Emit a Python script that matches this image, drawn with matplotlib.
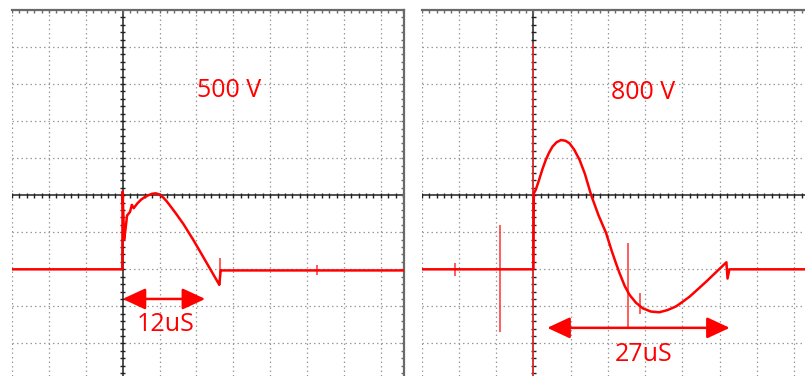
import numpy as np
import matplotlib
matplotlib.use("Agg")
import matplotlib.pyplot as plt

# ---------------- data (oscilloscope divisions) ----------------
left_label = "500 V"
right_label = "800 V"
left_width_label = "12uS"
right_width_label = "27uS"

left_t = [-3.0, -0.01, 0.0, 0.04, 0.08, 0.12, 0.2, 0.25, 0.3, 0.4, 0.5, 0.6, 0.7, 0.8, 0.9,
          1.0, 1.1, 1.2, 1.3, 1.45, 1.65, 1.9, 2.1, 2.35, 2.6, 2.62, 2.66, 2.7, 7.63]
left_v = [-2.0, -2.0, 0.1, -1.2, -0.9, -0.55, -0.45, -0.26, -0.35, -0.22, -0.12, -0.05, 0.0, 0.04, 0.05,
          0.02, -0.06, -0.17, -0.3, -0.5, -0.78, -1.18, -1.52, -1.95, -2.38, -2.42, -2.02, -2.03, -2.03]
left_spike_t = [2.63, 5.27]
left_spike_top = [-1.7, -1.88]
left_spike_bot = [-2.42, -2.15]

right_t = [-3.0, -0.01, 0.0, 0.01, 0.06, 0.15, 0.24, 0.33, 0.42, 0.51, 0.62, 0.74, 0.86, 0.97,
           1.1, 1.24, 1.38, 1.55, 1.75, 1.95, 2.1, 2.22, 2.31, 2.45, 2.58, 2.75, 2.93, 3.15,
           3.38, 3.6, 3.83, 4.0, 4.19, 4.4, 4.64, 4.9, 5.18, 5.21, 5.26, 7.29]
right_v = [-2.0, -2.0, -2.0, 0.05, 0.14, 0.41, 0.7, 0.95, 1.15, 1.31, 1.43, 1.49, 1.47, 1.40,
           1.22, 0.95, 0.58, 0.0, -0.55, -1.02, -1.5, -1.85, -2.1, -2.45, -2.69, -2.9, -3.05, -3.14,
           -3.16, -3.1, -3.0, -2.88, -2.74, -2.55, -2.33, -2.08, -1.81, -2.25, -2.0, -2.0]
right_spike_t = [-2.1, -0.9, 0.0, 2.55, 2.87]
right_spike_top = [-1.82, -0.81, 4.1, -1.3, -2.65]
right_spike_bot = [-2.18, -3.68, -4.95, -3.6, -3.2]

# ---------------- figure ----------------
W, H = 805, 376
fig = plt.figure(figsize=(W / 100, H / 100), dpi=100)
RED = "#ff0000"


def scope(ax, xmax, t, v, sp_t, sp_top, sp_bot, label, lpos, wlabel, wpos, arrow, right_border):
    ax.set_xlim(-3, xmax)
    ax.set_ylim(-4.88, 5)
    ax.set_axis_off()
    # dotted grid
    for gx in range(-3, int(np.floor(xmax)) + 1):
        if gx != 0:
            ax.axvline(gx, color="#9a9a9a", lw=0.9, ls=(0, (1.2, 2.4)), zorder=1)
    for gy in range(-4, 5):
        if gy != 0:
            ax.axhline(gy, color="#9a9a9a", lw=0.9, ls=(0, (1.2, 2.4)), zorder=1)
    # center axes with ticks
    ax.axhline(0, color="#222222", lw=1.1, zorder=2)
    ax.axvline(0, color="#222222", lw=1.1, zorder=2)
    xs = np.arange(-3, xmax + 0.01, 0.2)
    ys = np.arange(-4.8, 5.0, 0.2)
    ax.vlines(xs, -0.07, 0.07, color="#222222", lw=1.0, zorder=2)
    ax.hlines(ys, -0.07, 0.07, color="#222222", lw=1.0, zorder=2)
    # top border with ticks
    ax.axhline(5, color="#6a6a6a", lw=1.6, zorder=2, clip_on=False)
    ax.vlines(xs, 4.92, 5, color="#6a6a6a", lw=1.0, zorder=2)
    if right_border:
        ax.axvline(xmax, color="#6a6a6a", lw=1.6, zorder=2, clip_on=False)
        ax.hlines(ys, xmax - 0.08, xmax, color="#6a6a6a", lw=1.0, zorder=2)
    # trace
    ax.vlines(sp_t, sp_bot, sp_top, color="#ff3030", lw=1.1, zorder=3)
    ax.plot(t, v, color=RED, lw=1.8, zorder=4, solid_joinstyle="round")
    # labels
    ax.text(lpos[0], lpos[1], label, color=RED, fontsize=18, family="Open Sans",
            ha="center", va="center", zorder=5)
    ax.text(wpos[0], wpos[1], wlabel, color=RED, fontsize=18, family="Open Sans",
            ha="center", va="center", zorder=5)
    ax.annotate("", xy=(arrow[0], arrow[2]), xytext=(arrow[1], arrow[2]),
                arrowprops=dict(arrowstyle="<|-|>,head_length=1.4,head_width=0.65",
                                color=RED, lw=1.8, mutation_scale=10,
                                shrinkA=0, shrinkB=0), zorder=5)


axL = fig.add_axes([12 / W, 0, 392 / W, 366 / H])
scope(axL, 7.63, left_t, left_v, left_spike_t, left_spike_top, left_spike_bot,
      left_label, (2.89, 2.84), left_width_label, (1.16, -3.5), (0.0, 2.24, -2.8), True)

axR = fig.add_axes([421.7 / W, 0, (W - 421.7) / W, 366 / H])
scope(axR, 7.29, right_t, right_v, right_spike_t, right_spike_top, right_spike_bot,
      right_label, (2.93, 2.76), right_width_label, (2.97, -4.31), (0.37, 5.27, -3.58), False)

fig.savefig("out.png", dpi=100)
